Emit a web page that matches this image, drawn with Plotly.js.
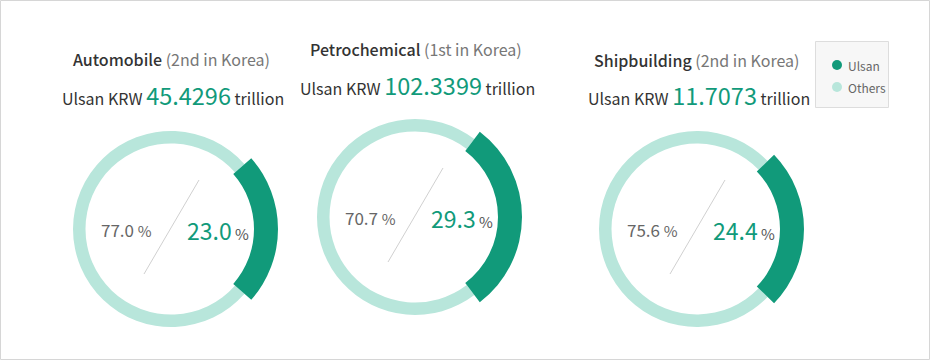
<!DOCTYPE html>
<html>
<head>
<meta charset="utf-8">
<script src="https://cdn.plot.ly/plotly-3.0.1.min.js"></script>
<style>html,body{margin:0;padding:0;background:#fff;}#chart{width:930px;height:360px;}</style>
</head>
<body>
<div id="chart"></div>
<script>
// ---- data ----
const sectors = ['Automobile', 'Petrochemical', 'Shipbuilding'];
const ranks = ['2nd in Korea', '1st in Korea', '2nd in Korea'];
const ulsanAmount = ['45.4296', '102.3399', '11.7073'];
const ulsanShare = [23.0, 29.3, 24.4];
const othersShare = [77.0, 70.7, 75.6];
const seriesNames = ['Ulsan', 'Others'];
const currency = 'KRW';
const unit = 'trillion';

// ---- style / layout constants ----
const W = 930, H = 360;
const FONT = '"Noto Sans CJK KR", "Noto Sans", sans-serif';
const DARK = '#119a7a', LIGHT = '#b8e6db';
const centers = [{x: 171, y: 229}, {x: 415, y: 217}, {x: 697, y: 229}];
const titleY = [59, 49, 60];
const amountY = [95, 85, 95];
const titleX = [171.5, 415.5, 697];
const amountX = [173, 417.5, 699];
const LIGHT_R = 98, LIGHT_IN = 85.5, DARK_R = 107, DARK_IN = 83;

const px = v => v / W;
const py = v => 1 - v / H;

function domainFor(c, r) {
  return {x: [px(c.x - r), px(c.x + r)], y: [py(c.y + r), py(c.y - r)]};
}

const traces = [];
const annotations = [];
const shapes = [];

sectors.forEach((s, i) => {
  const c = centers[i];
  const vals = [ulsanShare[i], othersShare[i]];
  const frac = ulsanShare[i] / (ulsanShare[i] + othersShare[i]);
  const rot = 90 - frac * 180;
  traces.push({
    type: 'pie', values: vals, labels: seriesNames, sort: false, direction: 'clockwise',
    rotation: rot, hole: LIGHT_IN / LIGHT_R, domain: domainFor(c, LIGHT_R),
    marker: {colors: ['rgba(0,0,0,0)', LIGHT], line: {width: 0}},
    textinfo: 'none', hoverinfo: 'skip', showlegend: false
  });
  traces.push({
    type: 'pie', values: vals, labels: seriesNames, sort: false, direction: 'clockwise',
    rotation: rot, hole: DARK_IN / DARK_R, domain: domainFor(c, DARK_R),
    marker: {colors: [DARK, 'rgba(0,0,0,0)'], line: {width: 0}},
    textinfo: 'none', hoverinfo: 'skip', showlegend: false
  });

  annotations.push({
    xref: 'paper', yref: 'paper', x: px(titleX[i]), y: py(titleY[i]),
    xanchor: 'center', yanchor: 'middle', showarrow: false,
    text: '<span style="font-weight:500">' + s + '</span> <span style="color:#777">(' + ranks[i] + ')</span>',
    font: {family: FONT, size: 16, color: '#333'}
  });
  annotations.push({
    xref: 'paper', yref: 'paper', x: px(amountX[i]), y: py(amountY[i]),
    xanchor: 'center', yanchor: 'middle', showarrow: false,
    text: 'Ulsan ' + currency + ' <span style="font-size:23.5px;color:' + DARK + '">' + ulsanAmount[i] + '</span> ' + unit,
    font: {family: FONT, size: 16, color: '#333'}
  });
  annotations.push({
    xref: 'paper', yref: 'paper', x: px(c.x - 45), y: py(c.y + 1),
    xanchor: 'center', yanchor: 'middle', showarrow: false,
    text: othersShare[i].toFixed(1) + ' <span style="font-size:15px">%</span>',
    font: {family: FONT, size: 17, color: '#666'}
  });
  annotations.push({
    xref: 'paper', yref: 'paper', x: px(c.x + 46.5), y: py(c.y + 1),
    xanchor: 'center', yanchor: 'middle', showarrow: false,
    text: '<span style="font-size:23px;color:' + DARK + '">' + ulsanShare[i].toFixed(1) + '</span> %',
    font: {family: FONT, size: 15, color: '#555'}
  });
  shapes.push({
    type: 'line', xref: 'paper', yref: 'paper',
    x0: px(c.x + 28), y0: py(c.y - 49), x1: px(c.x - 27), y1: py(c.y + 45),
    line: {color: '#d0d0d0', width: 1}
  });
});

// legend box (drawn)
shapes.push({type: 'rect', xref: 'paper', yref: 'paper', x0: px(815.5), x1: px(888.5), y0: py(107.5), y1: py(41.5),
  fillcolor: '#f7f7f7', line: {color: '#dddddd', width: 1}, layer: 'below'});
const legColors = [DARK, LIGHT];
const legY = [65, 87];
seriesNames.forEach((n, k) => {
  shapes.push({type: 'circle', xref: 'paper', yref: 'paper', x0: px(832), x1: px(842), y0: py(legY[k] + 5), y1: py(legY[k] - 5),
    fillcolor: legColors[k], line: {width: 0}});
  annotations.push({xref: 'paper', yref: 'paper', x: px(846), y: py(legY[k]), xanchor: 'left', yanchor: 'middle',
    showarrow: false, text: n, font: {family: FONT, size: 12, color: '#666'}});
});

// outer frame
shapes.push({type: 'rect', xref: 'paper', yref: 'paper', x0: px(0.5), x1: px(929.5), y0: py(359.5), y1: py(0.5),
  line: {color: '#d6d6d6', width: 1}, layer: 'below'});

const layout = {
  width: W, height: H, autosize: false,
  margin: {l: 0, r: 0, t: 0, b: 0, pad: 0},
  paper_bgcolor: '#ffffff', plot_bgcolor: '#ffffff',
  showlegend: false,
  annotations: annotations, shapes: shapes,
  font: {family: FONT}
};

Plotly.newPlot('chart', traces, layout, {displayModeBar: false, staticPlot: true});
</script>
</body>
</html>
